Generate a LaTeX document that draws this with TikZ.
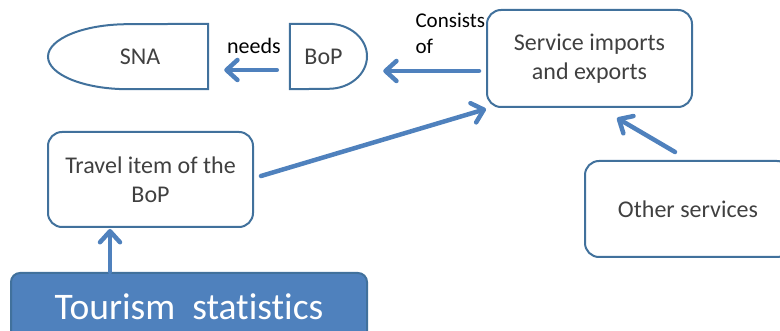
\documentclass[tikz,border=0pt]{standalone}
\usepackage{fontspec}
\setmainfont{Carlito}[RawFeature=-liga]
\usetikzlibrary{arrows.meta,positioning}
\definecolor{boxline}{HTML}{41719C}
\definecolor{arrowblue}{HTML}{4F81BD}
\definecolor{textgray}{HTML}{404040}
\tikzset{
  infobox/.style={draw=boxline,line width=2pt,rounded corners=14pt,align=center,
    text=textgray,font=\fontsize{24}{29}\selectfont},
  shapebox/.style={minimum height=65pt,inner sep=0pt,text=textgray,
    font=\fontsize{24}{29}\selectfont},
  shapeline/.style={draw=boxline,line width=2pt},
  linklabel/.style={text=black,align=left,font=\fontsize{21}{26}\selectfont},
  flowarrow/.style={draw=arrowblue,line width=4.5pt,line cap=round,
    -{Straight Barb[length=11pt,width=20pt,round]}},
}
\begin{document}
\begin{tikzpicture}[x=1pt,y=-1pt]
%
\useasboundingbox (0,0) rectangle (780,331);
\clip (0,0) rectangle (780,331);
%
\node[shapebox,minimum width=160pt] (sna) at (128,56.5) {\hspace*{24pt}SNA};
\node[shapebox,minimum width=77pt] (bop) at (328.5,56.5) {BoP\hspace*{10pt}};
\node[infobox,minimum width=205pt,minimum height=97pt] (sie) at (589.5,58.5) {Service imports\\and exports};
\node[infobox,minimum width=205pt,minimum height=95pt] (trav) at (150.5,179.5) {Travel item of the\\BoP};
\node[infobox,minimum width=206pt,minimum height=96pt] (oth) at (688,209) {Other services};
\node[infobox,minimum width=356pt,minimum height=68pt,rounded corners=9pt,fill=arrowblue,
  text=white,font=\fontsize{37.5}{40}\selectfont] (tour) at (189,307) {Tourism\ \ statistics};
%
\node[linklabel,font=\fontsize{22}{26}\selectfont] (lneeds) at (254,46) {needs};
\node[linklabel,anchor=west] (lcons) at (412,33) {Consists\\of};
%
\draw[shapeline] (sna.north east) -- (sna.south east) -- (sna.south)
  arc[start angle=270,end angle=90,x radius=80pt,y radius=32.5pt] -- cycle;
\draw[shapeline] (bop.north west) -- (bop.north)
  arc[start angle=90,end angle=-90,x radius=38.5pt,y radius=32.5pt] -- (bop.south west) -- cycle;
%
\draw[flowarrow] ([xshift=-13pt,yshift=-13.5pt]bop.west) -- ([xshift=16pt,yshift=-13.5pt]sna.east);
\draw[flowarrow] ([xshift=-7pt,yshift=-12.5pt]sie.west) -- ([xshift=16pt,yshift=-14.5pt]bop.east);
\draw[flowarrow] ([xshift=7pt,yshift=3.5pt]trav.east) -- ([yshift=-1pt]sie.south west);
\draw[flowarrow] ([xshift=-13pt,yshift=8pt]oth.north) -- ([xshift=27.5pt,yshift=-10pt]sie.south);
\draw[flowarrow] ([xshift=-79pt]tour.north) -- ([xshift=-40.5pt,yshift=-1pt]trav.south);
%
\end{tikzpicture}
\end{document}
